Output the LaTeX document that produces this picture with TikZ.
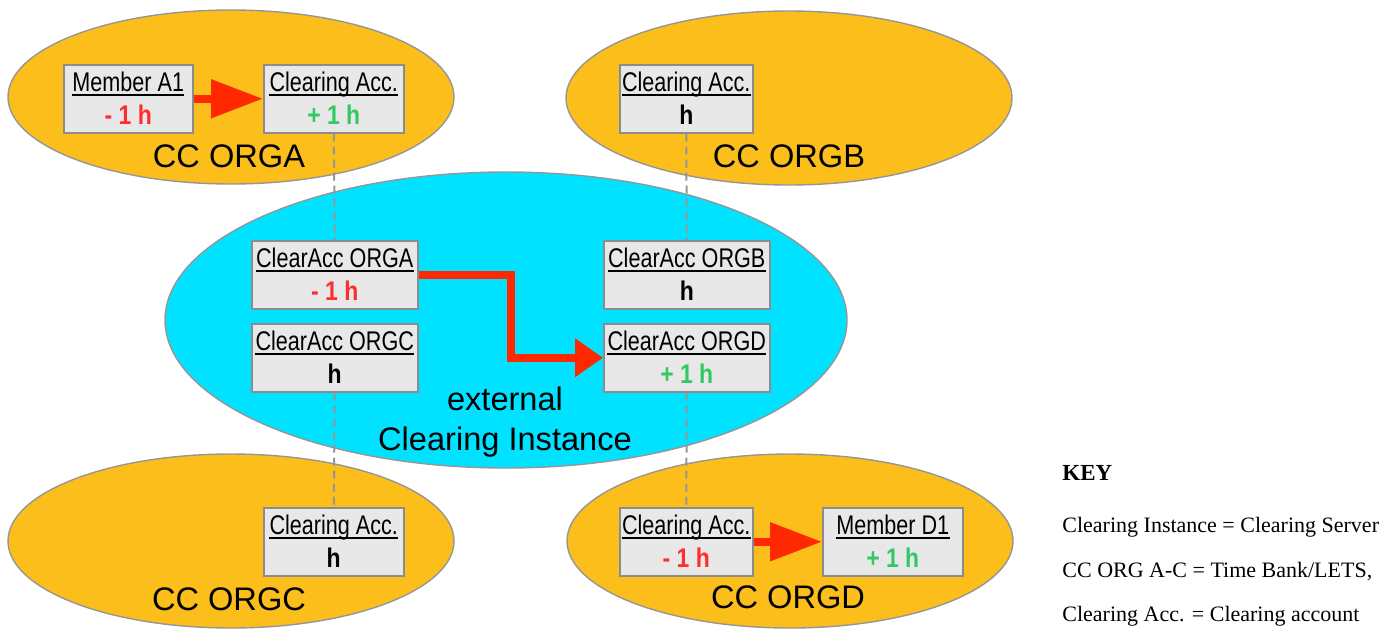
\documentclass[tikz,border=0pt]{standalone}
\usepackage{fontspec}
\usetikzlibrary{shapes.geometric,arrows.meta,calc}
\newfontfamily\hdrfont[FakeStretch=0.8]{Liberation Sans}
\newfontfamily\valfont[FakeStretch=0.85]{Liberation Sans}
\newfontfamily\lblfont{Liberation Sans}
\newfontfamily\keyfont{Liberation Serif}
\definecolor{orgorange}{RGB}{252,190,26}
\definecolor{clearcyan}{RGB}{0,226,255}
\definecolor{boxfill}{RGB}{232,232,232}
\definecolor{boxedge}{RGB}{140,140,140}
\definecolor{elledge}{RGB}{150,150,150}
\definecolor{arrred}{RGB}{255,40,0}
\definecolor{valred}{RGB}{255,45,45}
\definecolor{valgreen}{RGB}{50,200,100}
\definecolor{dashgray}{RGB}{150,150,150}
\tikzset{
  orgell/.style={ellipse, fill=orgorange, draw=elledge, line width=0.7pt,
    minimum width=223pt, minimum height=87pt, inner sep=0pt},
  clearell/.style={ellipse, fill=clearcyan, draw=elledge, line width=0.7pt,
    minimum width=341pt, minimum height=148pt, inner sep=0pt},
  accbox/.style={rectangle, fill=boxfill, draw=boxedge, line width=0.75pt,
    minimum height=34pt, inner sep=0pt},
  hdr/.style={inner sep=0pt, font=\hdrfont\fontsize{13.5}{15}\selectfont},
  val/.style={inner sep=0pt, font=\valfont\bfseries\fontsize{13.5}{15}\selectfont},
  uline/.style={line width=1pt, black},
  biglabel/.style={inner sep=0pt, font=\lblfont\fontsize{16.3}{19}\selectfont},
  keytext/.style={inner sep=0pt, anchor=base west, font=\keyfont\fontsize{11}{13}\selectfont},
  linkline/.style={dashgray, line width=1pt, dash pattern=on 4pt off 2.5pt},
  flowbig/.style={arrred, line width=4pt,
    -{Triangle[length=26pt, width=18.5pt]}},
  flowmid/.style={arrred, line width=4pt,
    -{Triangle[length=14pt, width=18.5pt]}},
}
\newcommand{\acct}[7]{%
  \node[accbox, minimum width=#4*0.5pt, anchor=north west] (#1) at (#2,#3) {};
  \node[hdr, anchor=base] (#1h) at ($(#1.north)+(0,27.5)$) {#5};
  \draw[uline] ($(#1h.base west)+(0,3.5)$) -- ($(#1h.base east)+(0,3.5)$);
  \node[val, text=#7, anchor=base] (#1v) at ($(#1.north)+(0,60)$) {#6};
}
\begin{document}
\begin{tikzpicture}[x=0.5pt, y=-0.5pt]
\useasboundingbox (0,0) rectangle (1395,628);
% organisations
\node[orgell] (eA) at (231,97) {};
\node[orgell] (eB) at (789,98) {};
\node[orgell] (eC) at (231,541) {};
\node[orgell] (eD) at (790,541) {};
% clearing instance
\node[clearell] (eX) at (506,320) {};
% labels
\node[biglabel, anchor=base] (lA) at (229,167) {CC ORGA};
\node[biglabel, anchor=base] (lB) at (789,167) {CC ORGB};
\node[biglabel, anchor=base] (lC) at (229,610) {CC ORGC};
\node[biglabel, anchor=base] (lD) at (788,608) {CC ORGD};
\node[biglabel, anchor=base] (lX1) at (505,410) {external};
\node[biglabel, anchor=base] (lX2) at (505,450) {Clearing Instance};
% boxes
\acct{mA}{63}{64}{129}{Member A1}{- 1 h}{valred}
\acct{cA}{263}{64}{140}{Clearing Acc.}{+ 1 h}{valgreen}
\acct{cB}{619}{64}{133}{Clearing Acc.}{h}{black}
\acct{oA}{251}{240}{166}{ClearAcc ORGA}{- 1 h}{valred}
\acct{oB}{603}{240}{166}{ClearAcc ORGB}{h}{black}
\acct{oC}{251}{323}{166}{ClearAcc ORGC}{h}{black}
\acct{oD}{603}{323}{166}{ClearAcc ORGD}{+ 1 h}{valgreen}
\acct{cC}{263}{507}{140}{Clearing Acc.}{h}{black}
\acct{cD}{619}{507}{133}{Clearing Acc.}{- 1 h}{valred}
\acct{mD}{822}{507}{140}{Member D1}{+ 1 h}{valgreen}
% links
\draw[linkline] (cA.south) -- (oA.north);
\draw[linkline] (cB.south) -- (oB.north);
\draw[linkline] (oC.south) -- (cC.north);
\draw[linkline] (oD.south) -- (cD.north);
% flows
\draw[flowbig] (mA.east) -- (cA.west);
\draw[flowbig] (cD.east) -- (mD.west);
\draw[flowmid] (oA.east) -| ($(oA.east)!0.5!(oD.west)$) |- (oD.west);
% key
\node[keytext, font=\keyfont\bfseries\fontsize{11.5}{13}\selectfont] (k0) at (1062,480) {KEY};
\node[keytext] (k1) at (1062,532) {Clearing Instance = Clearing Server};
\node[keytext] (k2) at (1062,577) {CC ORG A-C = Time Bank/LETS,};
\node[keytext] (k3) at (1062,621) {Clearing Acc. = Clearing account};
\end{tikzpicture}
\end{document}
